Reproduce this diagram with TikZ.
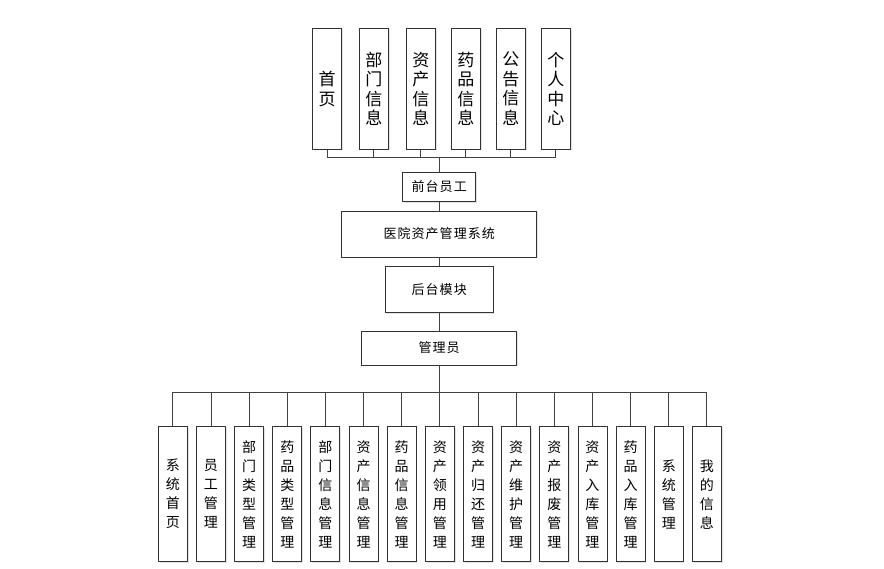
\documentclass[tikz,border=0pt]{standalone}
\usepackage{fontspec}
\setmainfont{Noto Sans CJK SC}
\usetikzlibrary{shadows}
\begin{document}
\begin{tikzpicture}[x=1pt,y=-1pt,
 box/.style={draw=black!80, line width=0.9pt, fill=white, inner sep=0pt, align=center,
   drop shadow={shadow xshift=1.2pt,shadow yshift=-1.2pt,opacity=0.22}},
 topbox/.style={box, minimum width=29pt, minimum height=121pt, font=\fontsize{17}{19.5}\selectfont},
 botbox/.style={box, minimum width=29pt, minimum height=135pt, font=\fontsize{14}{19}\selectfont},
 midbox/.style={box, font=\fontsize{13}{15}\selectfont\addfontfeature{LetterSpace=8}},
 link/.style={draw=black!75, line width=0.9pt}]
\useasboundingbox (0,0) rectangle (884,569);
% top row
\node[topbox] (t1) at (327.2,88.8) {首\\页};
\node[topbox] (t2) at (373.8,88.8) {部\\门\\信\\息};
\node[topbox] (t3) at (420.8,88.8) {资\\产\\信\\息};
\node[topbox] (t4) at (465.8,88.8) {药\\品\\信\\息};
\node[topbox] (t5) at (510.8,88.8) {公\\告\\信\\息};
\node[topbox] (t6) at (555.8,88.8) {个\\人\\中\\心};
% middle
\node[midbox, minimum width=73pt, minimum height=29.5pt] (qt) at (439.2,187) {前台员工};
\node[midbox, minimum width=195pt, minimum height=46pt] (sys) at (439.2,234) {医院资产管理系统};
\node[midbox, minimum width=108pt, minimum height=46pt] (ht) at (439.2,289.5) {后台模块};
\node[midbox, minimum width=155pt, minimum height=34pt] (adm) at (439.2,348) {管理员};
% bottom row
\node[botbox] (b1) at (172.8,494.2) {系\\统\\首\\页};
\node[botbox] (b2) at (210.95,494.2) {员\\工\\管\\理};
\node[botbox] (b3) at (249.1,494.2) {部\\门\\类\\型\\管\\理};
\node[botbox] (b4) at (287.25,494.2) {药\\品\\类\\型\\管\\理};
\node[botbox] (b5) at (325.4,494.2) {部\\门\\信\\息\\管\\理};
\node[botbox] (b6) at (363.55,494.2) {资\\产\\信\\息\\管\\理};
\node[botbox] (b7) at (401.7,494.2) {药\\品\\信\\息\\管\\理};
\node[botbox] (b8) at (439.85,494.2) {资\\产\\领\\用\\管\\理};
\node[botbox] (b9) at (478.0,494.2) {资\\产\\归\\还\\管\\理};
\node[botbox] (b10) at (516.15,494.2) {资\\产\\维\\护\\管\\理};
\node[botbox] (b11) at (554.3,494.2) {资\\产\\报\\废\\管\\理};
\node[botbox] (b12) at (592.45,494.2) {资\\产\\入\\库\\管\\理};
\node[botbox] (b13) at (630.6,494.2) {药\\品\\入\\库\\管\\理};
\node[botbox] (b14) at (668.75,494.2) {系\\统\\管\\理};
\node[botbox] (b15) at (706.9,494.2) {我\\的\\信\\息};
% connectors
\foreach \n in {t1,t2,t3,t4,t5,t6}
  \draw[link] (\n.south) -- ++(0,8) -| (qt.north);
\draw[link] (qt.south) -- (sys.north);
\draw[link] (sys.south) -- (ht.north);
\draw[link] (ht.south) -- (adm.north);
\foreach \n in {b1,b2,b3,b4,b5,b6,b7,b8,b9,b10,b11,b12,b13,b14,b15}
  \draw[link] (adm.south) -- ++(0,27) -| (\n.north);
\end{tikzpicture}
\end{document}
